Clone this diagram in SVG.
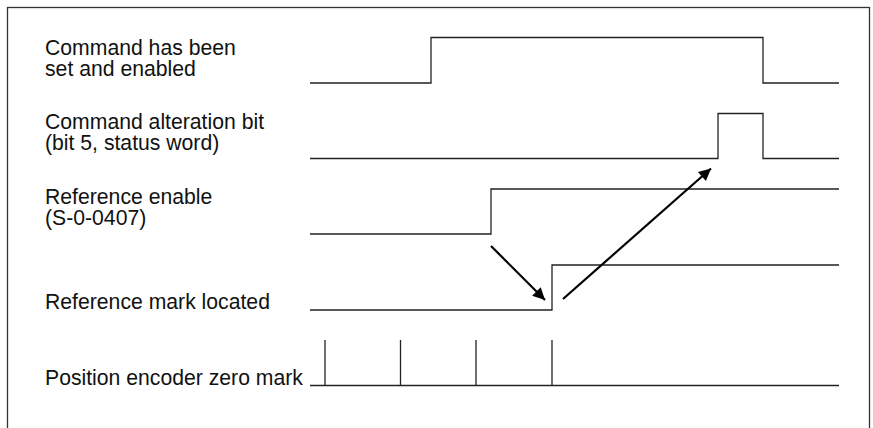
<svg xmlns="http://www.w3.org/2000/svg" width="873" height="428" viewBox="0 0 873 428">
<style>
.lbl{font-family:"Liberation Sans",Arial,sans-serif;font-size:21.2px;fill:#111}
.sig{fill:none;stroke:#222;stroke-width:1.3}
.arr{fill:none;stroke:#000;stroke-width:2.2}
</style>
<defs>
<marker id="ah" viewBox="0 0 10 10" refX="10" refY="5" markerWidth="7.5" markerHeight="5.5" orient="auto" markerUnits="strokeWidth">
<path d="M0,0 L10,5 L0,10 Z" fill="#000"/>
</marker>
</defs>
<rect x="7.5" y="7.5" width="862" height="440" fill="#fff" stroke="#333" stroke-width="1.3"/>
<g id="cmd-set">
<text class="lbl" x="45" y="55">Command has been</text>
<text class="lbl" x="45" y="76">set and enabled</text>
<path class="sig" d="M310,83 H431 V37.5 H763 V83 H839"/>
</g>
<g id="cmd-alt">
<text class="lbl" x="45" y="129">Command alteration bit</text>
<text class="lbl" x="45" y="150">(bit 5, status word)</text>
<path class="sig" d="M310,158.5 H718 V113.5 H763 V158.5 H839"/>
</g>
<g id="ref-enable">
<text class="lbl" x="45" y="204">Reference enable</text>
<text class="lbl" x="45" y="225">(S-0-0407)</text>
<path class="sig" d="M310,234 H491 V189 H839"/>
</g>
<g id="ref-mark">
<text class="lbl" x="45" y="309">Reference mark located</text>
<path class="sig" d="M310,310 H552 V265 H839"/>
</g>
<g id="zero-mark">
<text class="lbl" x="45" y="385">Position encoder zero mark</text>
<path class="sig" d="M310,385.5 H839 M325,340 V385.5 M400.5,340 V385.5 M476,340 V385.5 M552,340 V385.5"/>
</g>
<g id="connectors">
<line class="arr" x1="491" y1="246" x2="545" y2="300" marker-end="url(#ah)"/>
<line class="arr" x1="563" y1="299" x2="711" y2="168.5" marker-end="url(#ah)"/>
</g>
</svg>
